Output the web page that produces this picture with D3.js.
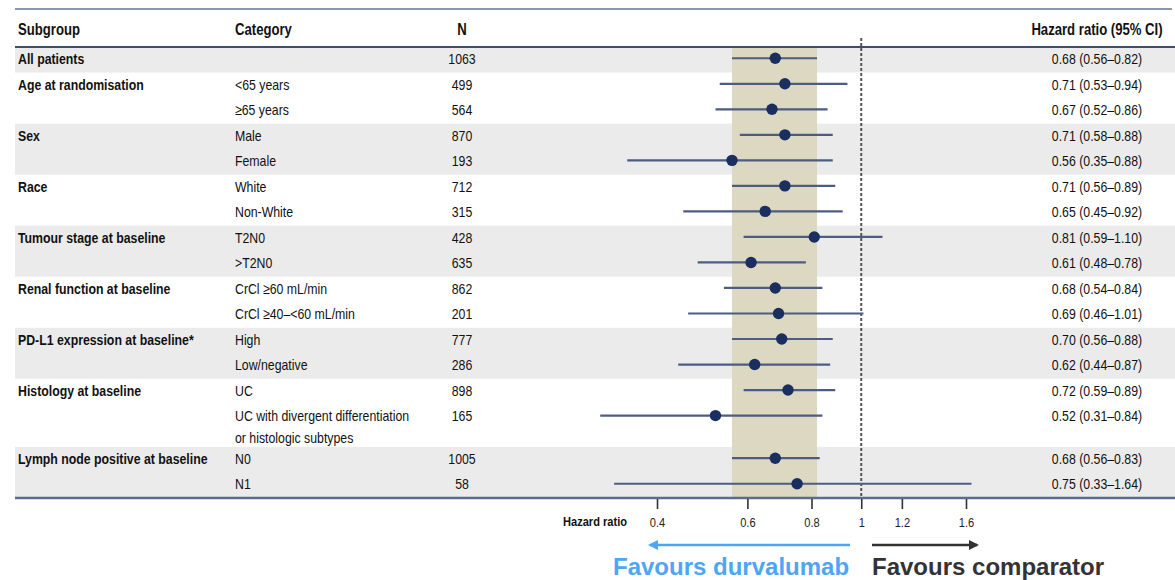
<!DOCTYPE html>
<html>
<head>
<meta charset="utf-8">
<script src="https://cdn.jsdelivr.net/npm/d3@7"></script>
<style>
  html, body { margin: 0; padding: 0; background: #fff; }
  svg { display: block; }
</style>
</head>
<body>
<svg id="chart" width="1175" height="580"></svg>
<script>
// Subgroup analysis of event-free survival: hazard ratios with 95% CI
const subgroups  = ["All patients", "Age at randomisation", "", "Sex", "", "Race", "", "Tumour stage at baseline", "",
                    "Renal function at baseline", "", "PD-L1 expression at baseline*", "", "Histology at baseline", "",
                    "Lymph node positive at baseline", ""];
const categories = ["", "<65 years", "≥65 years", "Male", "Female", "White", "Non-White", "T2N0", ">T2N0",
                    "CrCl ≥60 mL/min", "CrCl ≥40–<60 mL/min", "High", "Low/negative", "UC",
                    "UC with divergent differentiation\nor histologic subtypes", "N0", "N1"];
const groupIndex = [0, 1, 1, 2, 2, 3, 3, 4, 4, 5, 5, 6, 6, 7, 7, 8, 8];
const nPatients  = [1063, 499, 564, 870, 193, 712, 315, 428, 635, 862, 201, 777, 286, 898, 165, 1005, 58];
const hr         = [0.68, 0.71, 0.67, 0.71, 0.56, 0.71, 0.65, 0.81, 0.61, 0.68, 0.69, 0.70, 0.62, 0.72, 0.52, 0.68, 0.75];
const ciLow      = [0.56, 0.53, 0.52, 0.58, 0.35, 0.56, 0.45, 0.59, 0.48, 0.54, 0.46, 0.56, 0.44, 0.59, 0.31, 0.56, 0.33];
const ciHigh     = [0.82, 0.94, 0.86, 0.88, 0.88, 0.89, 0.92, 1.10, 0.78, 0.84, 1.01, 0.88, 0.87, 0.89, 0.84, 0.83, 1.64];
const axisTicks  = [0.4, 0.6, 0.8, 1, 1.2, 1.6];
const headers    = ["Subgroup", "Category", "N", "Hazard ratio (95% CI)"];

const svg = d3.select("#chart");

// Condensed face if present; otherwise compress regular glyphs horizontally
const probe = document.createElement("canvas").getContext("2d");
probe.font = "20px 'Liberation Sans Narrow', monospace";
const wNarrow = probe.measureText("Subgroup analysis").width;
probe.font = "20px monospace";
const wMono = probe.measureText("Subgroup analysis").width;
const hasNarrow = Math.abs(wNarrow - wMono) > 0.5;
const condFont = hasNarrow ? "'Liberation Sans Narrow', 'Arial Narrow', sans-serif" : "'Liberation Sans', Arial, sans-serif";
const squeeze = hasNarrow ? 1 : 0.82;

function condenseNode(node) {
  if (squeeze === 1) return;
  const len = node.getComputedTextLength();
  if (len > 0) {
    node.setAttribute("textLength", len * squeeze);
    node.setAttribute("lengthAdjust", "spacingAndGlyphs");
  }
}
function condense(sel) { sel.each(function () { condenseNode(this); }); }

// Row heights in row units: the two-line category takes extra space
const rowUnits = categories.map(c => c.includes("\n") ? 1.67 : 1);
const rowStart = [];
rowUnits.reduce((acc, u, i) => { rowStart[i] = acc; return acc + u; }, 0);
const totalUnits = d3.sum(rowUnits);

const y = d3.scaleLinear().domain([0, totalUnits]).range([47, 498]);
const x = d3.scaleLog().domain([0.4, 1.6]).range([657, 966]);

const left = 15, right = 1175;
const bodySize = 15, headerSize = 16, axisSize = 13.5;
const rowCenter = i => y(rowStart[i] + 0.5);

// Alternating group shading
const groups = d3.groups(d3.range(categories.length), i => groupIndex[i]);
svg.append("g").selectAll("rect")
  .data(groups.filter(([g]) => g % 2 === 0))
  .join("rect")
  .attr("x", left)
  .attr("width", right - left)
  .attr("y", ([, rows]) => y(rowStart[rows[0]]))
  .attr("height", ([, rows]) => {
    const last = rows[rows.length - 1];
    return y(rowStart[last] + rowUnits[last]) - y(rowStart[rows[0]]);
  })
  .attr("fill", "#ebebeb");

// Band for the overall-population confidence interval
svg.append("rect")
  .attr("x", x(ciLow[0]))
  .attr("width", x(ciHigh[0]) - x(ciLow[0]))
  .attr("y", y(0))
  .attr("height", y(totalUnits) - y(0))
  .attr("fill", "#dcd8c1");

// Line of no effect
svg.append("line")
  .attr("x1", x(1)).attr("x2", x(1))
  .attr("y1", 38).attr("y2", y(totalUnits))
  .attr("stroke", "#555").attr("stroke-width", 2)
  .attr("stroke-dasharray", "3,2");

// Table rules
svg.append("line").attr("x1", left).attr("x2", 1172).attr("y1", 9).attr("y2", 9)
  .attr("stroke", "#8c96ad").attr("stroke-width", 2);
svg.append("line").attr("x1", left).attr("x2", right).attr("y1", y(0)).attr("y2", y(0))
  .attr("stroke", "#3e4c6d").attr("stroke-width", 2);

// Confidence intervals and point estimates
const idx = d3.range(categories.length);
svg.append("g").selectAll("line")
  .data(idx)
  .join("line")
  .attr("x1", i => x(ciLow[i]))
  .attr("x2", i => x(ciHigh[i]))
  .attr("y1", i => rowCenter(i) - 1.5)
  .attr("y2", i => rowCenter(i) - 1.5)
  .attr("stroke", "#4d5d82")
  .attr("stroke-width", 2.2);

svg.append("g").selectAll("circle")
  .data(idx)
  .join("circle")
  .attr("cx", i => x(hr[i]))
  .attr("cy", i => rowCenter(i) - 1.5)
  .attr("r", 5.7)
  .attr("fill", "#1a2e5f");

// Header text
const headerY = 29;
const hdr = svg.append("g")
  .attr("font-family", condFont)
  .attr("font-size", headerSize)
  .attr("font-weight", "bold")
  .attr("fill", "#111");
hdr.append("text").attr("x", 18).attr("y", headerY).attr("dy", "0.35em").text(headers[0]);
hdr.append("text").attr("x", 235).attr("y", headerY).attr("dy", "0.35em").text(headers[1]);
hdr.append("text").attr("x", 462).attr("y", headerY).attr("dy", "0.35em").attr("text-anchor", "middle").text(headers[2]);
hdr.append("text").attr("x", 1097).attr("y", headerY).attr("dy", "0.35em").attr("text-anchor", "middle").text(headers[3]);
condense(hdr.selectAll("text"));

// Row text
const body = svg.append("g")
  .attr("font-family", condFont)
  .attr("font-size", bodySize)
  .attr("fill", "#111");

body.selectAll("text.sub")
  .data(idx.filter(i => subgroups[i] !== ""))
  .join("text")
  .attr("class", "sub")
  .attr("x", 18)
  .attr("y", i => rowCenter(i) - 1)
  .attr("dy", "0.35em")
  .attr("font-weight", "bold")
  .text(i => subgroups[i]);

// Categories; multi-line entries keep the first line on the row centre
body.selectAll("text.cat")
  .data(idx.filter(i => categories[i] !== ""))
  .join("text")
  .attr("class", "cat")
  .attr("x", 235)
  .attr("y", i => rowCenter(i) - 1)
  .each(function (i) {
    const t = d3.select(this);
    categories[i].split("\n").forEach((ln, k) => {
      t.append("tspan").attr("x", 235).attr("dy", k === 0 ? "0.35em" : 22).text(ln);
    });
  });

body.selectAll("text.n")
  .data(idx)
  .join("text")
  .attr("class", "n")
  .attr("x", 462)
  .attr("y", i => rowCenter(i) - 1)
  .attr("dy", "0.35em")
  .attr("text-anchor", "middle")
  .text(i => nPatients[i]);

const f2 = d3.format(".2f");
body.selectAll("text.hr")
  .data(idx)
  .join("text")
  .attr("class", "hr")
  .attr("x", 1097)
  .attr("y", i => rowCenter(i) - 1)
  .attr("dy", "0.35em")
  .attr("text-anchor", "middle")
  .text(i => `${f2(hr[i])} (${f2(ciLow[i])}–${f2(ciHigh[i])})`);

condense(body.selectAll("text:not(.cat)"));
body.selectAll("text.cat tspan").each(function () { condenseNode(this); });

// Bottom rule and hazard-ratio axis
svg.append("line").attr("x1", left).attr("x2", right).attr("y1", y(totalUnits)).attr("y2", y(totalUnits))
  .attr("stroke", "#5d6b8c").attr("stroke-width", 2.5);

const axis = svg.append("g")
  .attr("transform", `translate(0,${y(totalUnits) + 1})`)
  .call(d3.axisBottom(x).tickValues(axisTicks).tickFormat(d3.format("")).tickSize(10).tickPadding(8));
axis.select(".domain").remove();
axis.selectAll(".tick line").attr("stroke", "#333").attr("stroke-width", 1.6);
axis.selectAll(".tick text")
  .attr("font-family", condFont)
  .attr("font-size", axisSize)
  .attr("fill", "#222");
condense(axis.selectAll(".tick text"));

const axLabel = svg.append("text")
  .attr("x", 563).attr("y", 521).attr("dy", "0.35em")
  .attr("font-family", condFont).attr("font-size", axisSize).attr("font-weight", "bold")
  .attr("fill", "#111")
  .text("Hazard ratio");
condense(axLabel);

// Direction arrows
const defs = svg.append("defs");
[["arrowBlue", "#4da6f5"], ["arrowDark", "#333"]].forEach(([id, col]) => {
  defs.append("marker")
    .attr("id", id).attr("viewBox", "0 0 10 10")
    .attr("refX", 8).attr("refY", 5)
    .attr("markerWidth", 4).attr("markerHeight", 4)
    .attr("orient", "auto")
    .append("path").attr("d", "M0,0 L10,5 L0,10 z").attr("fill", col);
});

const arrowY = 545;
svg.append("line")
  .attr("x1", 850).attr("x2", 650).attr("y1", arrowY).attr("y2", arrowY)
  .attr("stroke", "#4da6f5").attr("stroke-width", 2.5)
  .attr("marker-end", "url(#arrowBlue)");
svg.append("line")
  .attr("x1", 872).attr("x2", 977).attr("y1", arrowY).attr("y2", arrowY)
  .attr("stroke", "#333").attr("stroke-width", 2.5)
  .attr("marker-end", "url(#arrowDark)");

svg.append("text")
  .attr("x", 613).attr("y", 575)
  .attr("font-family", "'Liberation Sans', Arial, sans-serif")
  .attr("font-size", 24).attr("font-weight", "bold")
  .attr("fill", "#4da6f5")
  .text("Favours durvalumab");
svg.append("text")
  .attr("x", 872).attr("y", 575)
  .attr("font-family", "'Liberation Sans', Arial, sans-serif")
  .attr("font-size", 24).attr("font-weight", "bold")
  .attr("fill", "#333")
  .text("Favours comparator");
</script>
</body>
</html>
